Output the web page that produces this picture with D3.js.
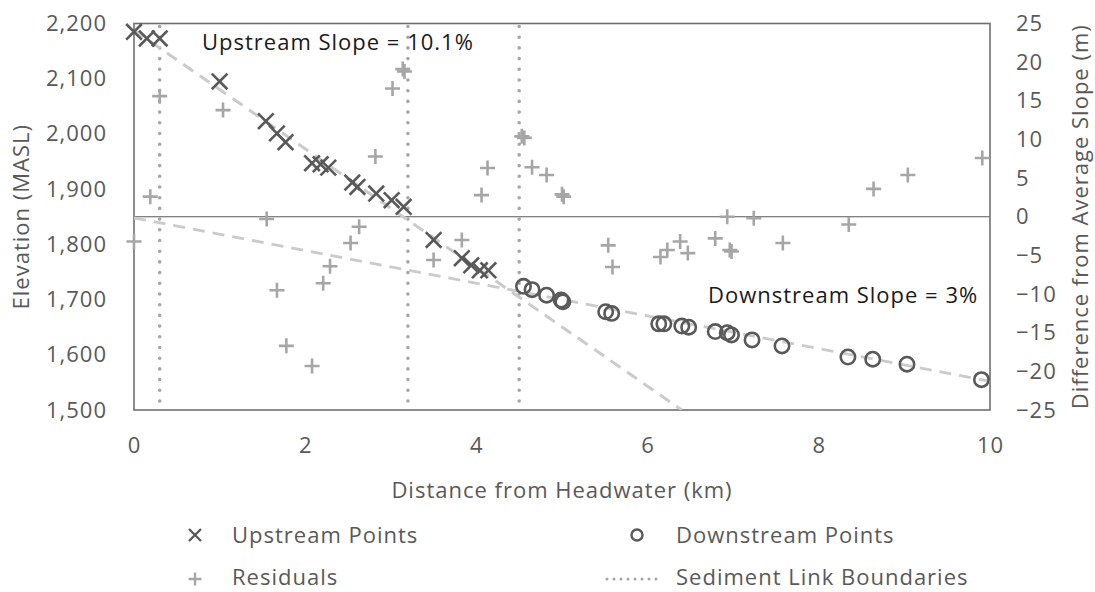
<!DOCTYPE html>
<html>
<head>
<meta charset="utf-8">
<script src="https://cdn.jsdelivr.net/npm/d3@7"></script>
<style>
  html, body { margin: 0; padding: 0; background: #fff; }
  svg { display: block; font-family: "Open Sans", "Noto Sans", sans-serif; }
  svg text { letter-spacing: 1px; }
</style>
</head>
<body>
<svg id="chart" width="1095" height="592"></svg>
<script>
// Surveyed channel points: distance from headwater (km) and elevation (m above sea level)
const upstreamKm   = [0.00, 0.15, 0.30, 1.00, 1.54, 1.67, 1.77, 2.08, 2.18, 2.27, 2.55, 2.61, 2.83, 3.01, 3.15, 3.50, 3.83, 3.94, 4.04, 4.14];
const upstreamElev = [2185, 2173, 2173, 2095, 2023, 2001, 1985, 1947, 1945, 1939, 1912, 1904, 1892, 1880, 1868, 1808, 1775, 1762, 1753, 1753];

const downstreamKm   = [4.55, 4.65, 4.82, 4.99, 5.01, 5.51, 5.58, 6.13, 6.19, 6.40, 6.48, 6.79, 6.93, 6.98, 7.22, 7.57, 8.34, 8.63, 9.03, 9.90];
const downstreamElev = [1724, 1718, 1708, 1699, 1696, 1678, 1675, 1656, 1656, 1652, 1650, 1642, 1640, 1636, 1627, 1616, 1596, 1592, 1583, 1555];

// Residuals from the reach-average slope (m), right axis
const residualKm  = [0.00, 0.19, 0.30, 1.04, 1.55, 1.67, 1.78, 2.08, 2.21, 2.29, 2.53, 2.63, 2.82, 3.02, 3.14, 3.16, 3.50, 3.83, 4.06, 4.13, 4.53, 4.56, 4.65, 4.82, 5.00, 5.02, 5.54, 5.59, 6.15, 6.23, 6.38, 6.47, 6.79, 6.93, 6.96, 6.98, 7.24, 7.58, 8.35, 8.64, 9.04, 9.91];
const residualVal = [-3.2, 2.6, 15.6, 13.8, -0.3, -9.5, -16.7, -19.3, -8.6, -6.4, -3.4, -1.3, 7.8, 16.6, 19.1, 18.8, -5.6, -3.0, 2.8, 6.3, 10.4, 10.2, 6.4, 5.4, 2.9, 2.6, -3.7, -6.5, -5.2, -4.3, -3.2, -4.7, -2.8, 0.0, -4.3, -4.5, -0.2, -3.4, -1.0, 3.6, 5.4, 7.6];

// Sediment link boundaries (km)
const boundaryKm = [0.3, 3.2, 4.5];

// Linear fits: elevation = intercept + slope * km
const fitNames      = ["upstream", "downstream"];
const fitIntercepts = [2188, 1848];
const fitSlopes     = [-107.5, -29.6];

// Axis ticks
const xTicks      = [0, 2, 4, 6, 8, 10];
const elevTicks   = [1500, 1600, 1700, 1800, 1900, 2000, 2100, 2200];
const residTicks  = [-25, -20, -15, -10, -5, 0, 5, 10, 15, 20, 25];

const svg = d3.select("#chart");
const margin = { left: 134, right: 105, top: 23.5, bottom: 182 };
const W = 1095, H = 592;
const plotW = W - margin.left - margin.right;
const plotH = H - margin.top - margin.bottom;

const x  = d3.scaleLinear().domain([0, 10]).range([margin.left, margin.left + plotW]);
const yL = d3.scaleLinear().domain([1500, 2200]).range([margin.top + plotH, margin.top]);
const yR = d3.scaleLinear().domain([-25, 25]).range([margin.top + plotH, margin.top]);

const axisGrey = "#595959";
const textGrey = "#595959";
const markGrey = "#595959";
const lightGrey = "#a6a6a6";
const fontSize = 22;

svg.append("defs").append("clipPath").attr("id", "plotClip")
  .append("rect").attr("x", margin.left).attr("y", margin.top)
  .attr("width", plotW).attr("height", plotH);

// Zero line of the residual axis
svg.append("line")
  .attr("x1", x(0)).attr("x2", x(10))
  .attr("y1", yR(0)).attr("y2", yR(0))
  .attr("stroke", axisGrey).attr("stroke-width", 1.2);

// Plot frame
svg.append("rect")
  .attr("x", margin.left).attr("y", margin.top)
  .attr("width", plotW).attr("height", plotH)
  .attr("fill", "none").attr("stroke", "#6f6f6f").attr("stroke-width", 1.6);

// Sediment link boundaries
svg.append("g").selectAll("line").data(boundaryKm).join("line")
  .attr("x1", d => x(d)).attr("x2", d => x(d))
  .attr("y1", yL(2200) + 3).attr("y2", yL(1500))
  .attr("stroke", lightGrey).attr("stroke-width", 3.6)
  .attr("stroke-linecap", "round").attr("stroke-dasharray", "0 10.7");

// Fit lines
const fitG = svg.append("g").attr("clip-path", "url(#plotClip)");
fitNames.forEach((name, i) => {
  const b = fitIntercepts[i], m = fitSlopes[i];
  const xEnd = Math.min(10, (1500 - b) / m);
  fitG.append("line")
    .attr("class", "fit-" + name)
    .attr("x1", x(0)).attr("y1", yL(b))
    .attr("x2", x(xEnd)).attr("y2", yL(b + m * xEnd))
    .attr("stroke", "#cbcbcb").attr("stroke-width", 3)
    .attr("stroke-dasharray", "12 8");
});

// Marker shapes
function crossPath(s) {
  return `M${-s},${-s}L${s},${s}M${-s},${s}L${s},${-s}`;
}
function plusPath(s) {
  return `M${-s},0L${s},0M0,${-s}L0,${s}`;
}

// Residuals
svg.append("g").selectAll("path").data(residualKm.map((k, i) => [k, residualVal[i]])).join("path")
  .attr("transform", d => `translate(${x(d[0])},${yR(d[1])})`)
  .attr("d", plusPath(7.5))
  .attr("stroke", lightGrey).attr("stroke-width", 2.6).attr("fill", "none");

// Upstream points
svg.append("g").selectAll("path").data(upstreamKm.map((k, i) => [k, upstreamElev[i]])).join("path")
  .attr("transform", d => `translate(${x(d[0])},${yL(d[1])})`)
  .attr("d", crossPath(7.8))
  .attr("stroke", markGrey).attr("stroke-width", 2.6).attr("fill", "none");

// Downstream points
svg.append("g").selectAll("circle").data(downstreamKm.map((k, i) => [k, downstreamElev[i]])).join("circle")
  .attr("cx", d => x(d[0])).attr("cy", d => yL(d[1]))
  .attr("r", 7.2)
  .attr("stroke", markGrey).attr("stroke-width", 2.6).attr("fill", "none");

// Axes
const fmt = d3.format(",");

const xAxis = svg.append("g")
  .attr("transform", `translate(0,${margin.top + plotH})`)
  .call(d3.axisBottom(x).tickValues(xTicks).tickSize(0).tickPadding(27).tickFormat(d3.format("d")));
const yAxisL = svg.append("g")
  .attr("transform", `translate(${margin.left},0)`)
  .call(d3.axisLeft(yL).tickValues(elevTicks).tickSize(0).tickPadding(27).tickFormat(fmt));
const yAxisR = svg.append("g")
  .attr("transform", `translate(${margin.left + plotW},0)`)
  .call(d3.axisRight(yR).tickValues(residTicks).tickSize(0).tickPadding(26).tickFormat(d3.format("d")));

[xAxis, yAxisL, yAxisR].forEach(g => {
  g.select(".domain").remove();
  g.selectAll("text").attr("fill", textGrey).attr("font-size", fontSize)
    .attr("font-family", "'Open Sans', 'Noto Sans', sans-serif");
});

// Axis titles
svg.append("text")
  .attr("x", x(5)).attr("y", 498)
  .attr("text-anchor", "middle").attr("fill", textGrey).attr("font-size", fontSize)
  .text("Distance from Headwater (km)");

svg.append("text")
  .attr("transform", `translate(29,${margin.top + plotH / 2}) rotate(-90)`)
  .attr("text-anchor", "middle").attr("fill", textGrey).attr("font-size", fontSize)
  .text("Elevation (MASL)");

svg.append("text")
  .attr("transform", `translate(1088,${margin.top + plotH / 2}) rotate(-90)`)
  .attr("text-anchor", "middle").attr("fill", textGrey).attr("font-size", fontSize)
  .text("Difference from Average Slope (m)");

// Slope annotations
svg.append("text")
  .attr("x", 202).attr("y", 50)
  .attr("fill", "#1a1a1a").attr("font-size", fontSize)
  .text("Upstream Slope = 10.1%");
svg.append("text")
  .attr("x", 708).attr("y", 303)
  .attr("fill", "#1a1a1a").attr("font-size", fontSize)
  .text("Downstream Slope = 3%");

// Legend
const legend = svg.append("g").attr("font-size", fontSize).attr("fill", textGrey);
const legendItems = [
  { label: "Upstream Points",          mx: 195, tx: 232, y: 535, base: 543, kind: "cross" },
  { label: "Downstream Points",        mx: 637, tx: 676, y: 535, base: 543, kind: "circle" },
  { label: "Residuals",                mx: 195, tx: 232, y: 579, base: 585, kind: "plus" },
  { label: "Sediment Link Boundaries", mx: 635, tx: 676, y: 579, base: 585, kind: "dots" }
];
legendItems.forEach(it => {
  if (it.kind === "cross") {
    legend.append("path").attr("transform", `translate(${it.mx},${it.y})`)
      .attr("d", crossPath(6)).attr("stroke", markGrey).attr("stroke-width", 2.4).attr("fill", "none");
  } else if (it.kind === "circle") {
    legend.append("circle").attr("cx", it.mx).attr("cy", it.y).attr("r", 5.5)
      .attr("stroke", markGrey).attr("stroke-width", 2.4).attr("fill", "none");
  } else if (it.kind === "plus") {
    legend.append("path").attr("transform", `translate(${it.mx},${it.y})`)
      .attr("d", plusPath(6.5)).attr("stroke", lightGrey).attr("stroke-width", 2.4).attr("fill", "none");
  } else {
    legend.append("line").attr("x1", it.mx - 28).attr("x2", it.mx + 28)
      .attr("y1", it.y).attr("y2", it.y)
      .attr("stroke", lightGrey).attr("stroke-width", 3)
      .attr("stroke-linecap", "round").attr("stroke-dasharray", "0 7");
  }
  legend.append("text").attr("x", it.tx).attr("y", it.base).text(it.label);
});
</script>
</body>
</html>
